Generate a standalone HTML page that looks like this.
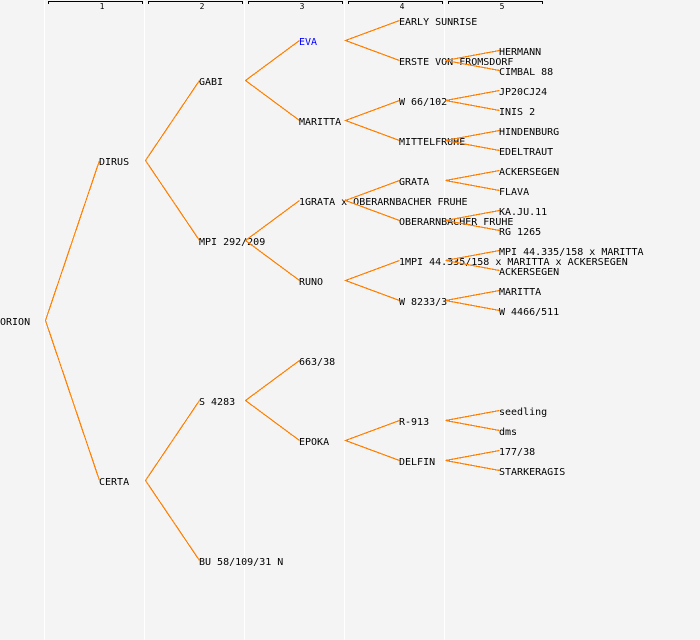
<!DOCTYPE html>
<html><head><meta charset="utf-8"><style>
html,body{margin:0;padding:0;background:#f4f4f4;width:700px;height:640px;overflow:hidden}
svg{display:block}
text{font-family:"DejaVu Sans Mono","Liberation Mono",monospace;font-size:10px;fill:#000;white-space:pre}
.n{font-size:8px;text-anchor:middle}
</style></head><body>
<svg width="700" height="640" viewBox="0 0 700 640" xmlns="http://www.w3.org/2000/svg">
<rect width="700" height="640" fill="#f4f4f4"/>
<g fill="#fff"><rect x="44" y="0" width="1" height="640"/><rect x="144" y="0" width="1" height="640"/><rect x="244" y="0" width="1" height="640"/><rect x="344" y="0" width="1" height="640"/><rect x="444" y="0" width="1" height="640"/></g>
<g fill="none" stroke="#000" shape-rendering="crispEdges">
<path d="M48.5 4V1.5H142.5V4"/><path d="M148.5 4V1.5H242.5V4"/><path d="M248.5 4V1.5H342.5V4"/><path d="M348.5 4V1.5H442.5V4"/><path d="M448.5 4V1.5H542.5V4"/>
</g>
<text class="n" x="102" y="9">1</text><text class="n" x="202" y="9">2</text><text class="n" x="302" y="9">3</text><text class="n" x="402" y="9">4</text><text class="n" x="502" y="9">5</text>
<g>
<text x="0" y="325">ORION</text>
<text x="99" y="165">DIRUS</text><text x="99" y="485">CERTA</text>
<text x="199" y="85">GABI</text><text x="199" y="245">MPI 292/209</text><text x="199" y="405">S 4283</text><text x="199" y="565">BU 58/109/31 N</text>
<text x="299" y="45" style="fill:#00f">EVA</text><text x="299" y="125">MARITTA</text><text x="299" y="205">1GRATA x OBERARNBACHER FRUHE</text><text x="299" y="285">RUNO</text><text x="299" y="365">663/38</text><text x="299" y="445">EPOKA</text>
<text x="399" y="25">EARLY SUNRISE</text><text x="399" y="65">ERSTE VON FROMSDORF</text><text x="399" y="105">W 66/102</text><text x="399" y="145">MITTELFRUHE</text><text x="399" y="185">GRATA</text><text x="399" y="225">OBERARNBACHER FRUHE</text><text x="399" y="265">1MPI 44.335/158 x MARITTA x ACKERSEGEN</text><text x="399" y="305">W 8233/3</text><text x="399" y="425">R-913</text><text x="399" y="465">DELFIN</text>
<text x="499" y="55">HERMANN</text><text x="499" y="75">CIMBAL 88</text><text x="499" y="95">JP20CJ24</text><text x="499" y="115">INIS 2</text><text x="499" y="135">HINDENBURG</text><text x="499" y="155">EDELTRAUT</text><text x="499" y="175">ACKERSEGEN</text><text x="499" y="195">FLAVA</text><text x="499" y="215">KA.JU.11</text><text x="499" y="235">RG 1265</text><text x="499" y="255">MPI 44.335/158 x MARITTA</text><text x="499" y="275">ACKERSEGEN</text><text x="499" y="295">MARITTA</text><text x="499" y="315">W 4466/511</text><text x="499" y="415">seedling</text><text x="499" y="435">dms</text><text x="499" y="455">177/38</text><text x="499" y="475">STARKERAGIS</text>
</g>
<g fill="none" stroke="#ff8000" stroke-width="1.2" shape-rendering="crispEdges" transform="translate(0,-1)">
<path d="M99.5 161.5L45.5 321.5L99.5 481.5"/>
<path d="M199.5 81.5L145.5 161.5L199.5 241.5"/>
<path d="M199.5 401.5L145.5 481.5L199.5 561.5"/>
<path d="M299.5 41.5L245.5 81.5L299.5 121.5"/>
<path d="M299.5 201.5L245.5 241.5L299.5 281.5"/>
<path d="M299.5 361.5L245.5 401.5L299.5 441.5"/>
<path d="M399.5 21.5L345.5 41.5L399.5 61.5"/>
<path d="M399.5 101.5L345.5 121.5L399.5 141.5"/>
<path d="M399.5 181.5L345.5 201.5L399.5 221.5"/>
<path d="M399.5 261.5L345.5 281.5L399.5 301.5"/>
<path d="M399.5 421.5L345.5 441.5L399.5 461.5"/>
<path d="M499.5 51.5L445.5 61.5L499.5 71.5"/>
<path d="M499.5 91.5L445.5 101.5L499.5 111.5"/>
<path d="M499.5 131.5L445.5 141.5L499.5 151.5"/>
<path d="M499.5 171.5L445.5 181.5L499.5 191.5"/>
<path d="M499.5 211.5L445.5 221.5L499.5 231.5"/>
<path d="M499.5 251.5L445.5 261.5L499.5 271.5"/>
<path d="M499.5 291.5L445.5 301.5L499.5 311.5"/>
<path d="M499.5 411.5L445.5 421.5L499.5 431.5"/>
<path d="M499.5 451.5L445.5 461.5L499.5 471.5"/>
</g>
</svg>
</body></html>
